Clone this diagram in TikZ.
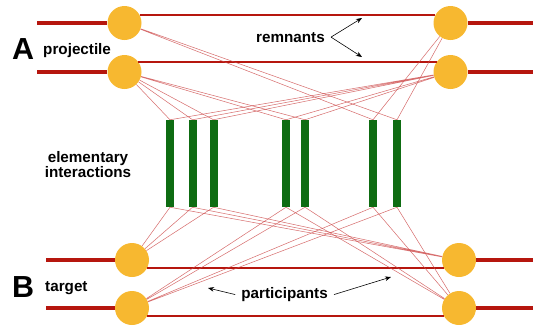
\documentclass[tikz,border=0pt]{standalone}
\usepackage{fontspec}
\setmainfont{Liberation Sans}
\usetikzlibrary{arrows.meta}
\definecolor{nucorange}{RGB}{247,184,48}
\definecolor{beamred}{RGB}{182,22,14}
\definecolor{linkred}{RGB}{205,75,75}
\definecolor{pomgreen}{RGB}{14,108,18}
\tikzset{nucleon/.style={circle, fill=nucorange, minimum size=10.2mm, inner sep=0pt}}
\tikzset{pomeron/.style={rectangle, fill=pomgreen, minimum width=2.4mm, minimum height=26.1mm, inner sep=0pt}}
\tikzset{beam/.style={beamred, line width=1.35mm}}
\tikzset{remnant/.style={beamred, line width=0.45mm}}
\tikzset{link/.style={linkred, line width=0.45pt, opacity=0.8}}
\tikzset{word/.style={font=\fontsize{13}{12.8}\selectfont\bfseries, inner sep=0pt}}
\tikzset{bigletter/.style={font=\fontsize{26}{26}\selectfont\bfseries, inner sep=0pt}}
\tikzset{pointer/.style={-{Stealth[length=1.8mm, width=1.4mm]}, line width=0.5pt}}

\begin{document}
\begin{tikzpicture}[x=0.3mm, y=-0.3mm]
\useasboundingbox (0,0) rectangle (533,326);
% nucleons of projectile A and target B
\node[nucleon] (projL1) at (124.5,23) {};
\node[nucleon] (projL2) at (124.5,72) {};
\node[nucleon] (projR1) at (450.5,23) {};
\node[nucleon] (projR2) at (450.5,72) {};
\node[nucleon] (targL1) at (132,260) {};
\node[nucleon] (targL2) at (132,308) {};
\node[nucleon] (targR1) at (459,260) {};
\node[nucleon] (targR2) at (459,308) {};
% elementary interactions
\node[pomeron] (pom1) at (170,163.5) {};
\node[pomeron] (pom2) at (192.5,163.5) {};
\node[pomeron] (pom3) at (213.5,163.5) {};
\node[pomeron] (pom4) at (286,163.5) {};
\node[pomeron] (pom5) at (305,163.5) {};
\node[pomeron] (pom6) at (373,163.5) {};
\node[pomeron] (pom7) at (397,163.5) {};
% incoming and outgoing beams
\coordinate (projIn1) at (37,23);
\coordinate (projIn2) at (37,72);
\coordinate (projOut1) at (533,23);
\coordinate (projOut2) at (533,72);
\coordinate (targIn1) at (46,260);
\coordinate (targIn2) at (46,308);
\coordinate (targOut1) at (533,260);
\coordinate (targOut2) at (533,308);
\draw[beam] (projIn1) -- (projL1);
\draw[beam] (projIn2) -- (projL2);
\draw[beam] (projR1) -- (projOut1);
\draw[beam] (projR2) -- (projOut2);
\draw[beam] (targIn1) -- (targL1);
\draw[beam] (targIn2) -- (targL2);
\draw[beam] (targR1) -- (targOut1);
\draw[beam] (targR2) -- (targOut2);
% remnants
\draw[remnant] (projL1.28) -- (projR1.152);
\draw[remnant] (projL2.36) -- (projR2.144);
\draw[remnant] (targL1.-27) -- (targR1.-153);
\draw[remnant] (targL2.-28) -- (targR2.-152);
% participants to elementary interactions
\draw[link] (projL1) -- (pom6.north) (projL1) -- (pom7.north);
\draw[link] (projR1) -- (pom6.north) (projR1) -- (pom7.north);
\draw[link] (projL2) -- (pom1.north) (projL2) -- (pom2.north) (projL2) -- (pom3.north) (projL2) -- (pom4.north) (projL2) -- (pom5.north);
\draw[link] (projR2) -- (pom1.north) (projR2) -- (pom2.north) (projR2) -- (pom3.north) (projR2) -- (pom4.north) (projR2) -- (pom5.north);
\draw[link] (targL1) -- (pom1.south) (targL1) -- (pom2.south) (targL1) -- (pom3.south);
\draw[link] (targR1) -- (pom1.south) (targR1) -- (pom2.south) (targR1) -- (pom3.south);
\draw[link] (targL2) -- (pom4.south) (targL2) -- (pom5.south) (targL2) -- (pom6.south) (targL2) -- (pom7.south);
\draw[link] (targR2) -- (pom4.south) (targR2) -- (pom5.south) (targR2) -- (pom6.south) (targR2) -- (pom7.south);
% texts
\node[bigletter] (letA) at (23,49.5) {A};
\node[word, anchor=base west] (projTxt) at (43,54) {projectile};
\node[word, align=center] (elemTxt) at (88,165) {elementary\\interactions};
\node[bigletter] (letB) at (23,287.5) {B};
\node[word, anchor=base west] (targTxt) at (45,291) {target};
\node[word, inner xsep=1.8mm, anchor=base east] (remnTxt) at (331,42) {remnants};
\node[word, inner xsep=1.8mm, anchor=base east] (partTxt) at (334,298.5) {participants};
\coordinate (remnTip1) at (362,18);
\coordinate (remnTip2) at (362,57);
\coordinate (partTip1) at (208,288);
\coordinate (partTip2) at (391,277);
\draw[pointer] (remnTxt.east) -- (remnTip1);
\draw[pointer] (remnTxt.east) -- (remnTip2);
\draw[pointer] (partTxt.west) -- (partTip1);
\draw[pointer] (partTxt.east) -- (partTip2);
\end{tikzpicture}
\end{document}
